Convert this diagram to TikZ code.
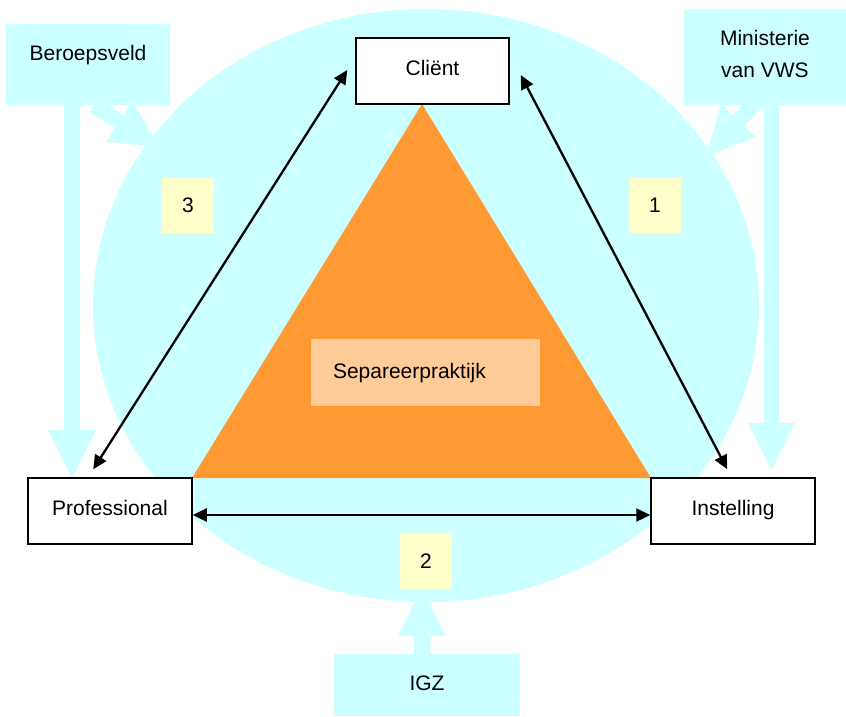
\documentclass[tikz,border=0pt]{standalone}
\usepackage{fontspec}
\setmainfont{Liberation Sans}
\usetikzlibrary{arrows.meta,calc}
\definecolor{cy}{HTML}{CCFFFF}
\definecolor{orng}{HTML}{FF9933}
\definecolor{lorng}{HTML}{FFCC99}
\definecolor{ylw}{HTML}{FFFFCC}
\begin{document}
\begin{tikzpicture}[x=1pt,y=-1pt,
  every node/.style={font=\fontsize{21}{25}\selectfont, inner sep=0pt},
  whitebox/.style={draw=black, line width=1.5pt, fill=white, minimum width=#1,
    text height=37pt, text depth=29pt},
  cybox/.style={fill=cy, minimum width=#1},
  numbox/.style={fill=ylw, minimum width=52pt, text height=35pt, text depth=20.5pt},
  blockarrow/.style={fill=cy},
  conn/.style={line width=2.3pt, {Triangle[length=14pt,width=13pt]}-{Triangle[length=14pt,width=13pt]}}]
\useasboundingbox (0,0) rectangle (846,716);
% big ellipse
\fill[cy] (426,305.5) ellipse [x radius=333pt, y radius=296.5pt];
% cyan block arrows
\fill[blockarrow] (64,100) -- (64,430) -- (48,430) -- (72,478) -- (96,430) -- (80,430) -- (80,100) -- cycle;
\fill[blockarrow] (89.6,112) -- (115,128) -- (106.2,141.8) -- (159.7,147.4) -- (132.2,101.2) -- (123.3,115) -- (98.2,98.5) -- cycle;
\fill[blockarrow] (764,100) -- (764,423) -- (748,423) -- (771.5,470) -- (795,423) -- (779,423) -- (779,100) -- cycle;
\fill[blockarrow] (765,104.5) -- (744.2,126.1) -- (755.7,137.3) -- (706.6,155.9) -- (721.1,103.7) -- (732.6,114.9) -- (753.6,93.3) -- cycle;
\fill[blockarrow] (414,660) -- (414,636) -- (398,636) -- (422,588) -- (446,636) -- (430,636) -- (430,660) -- cycle;
% cyan boxes
\node[cybox=164pt, text height=36pt, text depth=45pt] (berv) at (88,64.5) {Beroepsveld};
\node[cybox=162pt, minimum height=96pt] (minbox) at (765,57) {};
\node[align=center, font=\fontsize{21}{31.3}\selectfont] (mintext) at (765,54) {Ministerie\\van VWS};
\node[cybox=186pt, text height=36.7pt, text depth=25.3pt] (igz) at (427,685) {IGZ};
% orange triangle
\fill[orng] (192,478) -- (651,478) -- (422,104) -- cycle;
\node[fill=lorng, inner xsep=22pt, text width=185pt, align=left, text height=39.3pt, text depth=27.7pt] (sep) at (425.5,372.5) {Separeerpraktijk};
% number boxes
\node[numbox] (n3) at (188,205.5) {3};
\node[numbox] (n1) at (655,205.5) {1};
\node[numbox] (n2) at (426,561) {2};
% main boxes
\node[whitebox=153pt] (client) at (432.5,71) {Cliënt};
\node[whitebox=164pt] (prof) at (110,511) {Professional};
\node[whitebox=164pt] (inst) at (733,511) {Instelling};
% connectors
\draw[conn] ($(prof.north west)+(66,-8)$) -- ($(client.west)+(-8,-1)$);
\draw[conn] ($(client.east)+(11,4)$) -- ($(inst.north west)+(77,-8)$);
\draw[conn] ($(prof.east)+(0,4)$) -- ($(inst.west)+(0,4)$);
\end{tikzpicture}
\end{document}
